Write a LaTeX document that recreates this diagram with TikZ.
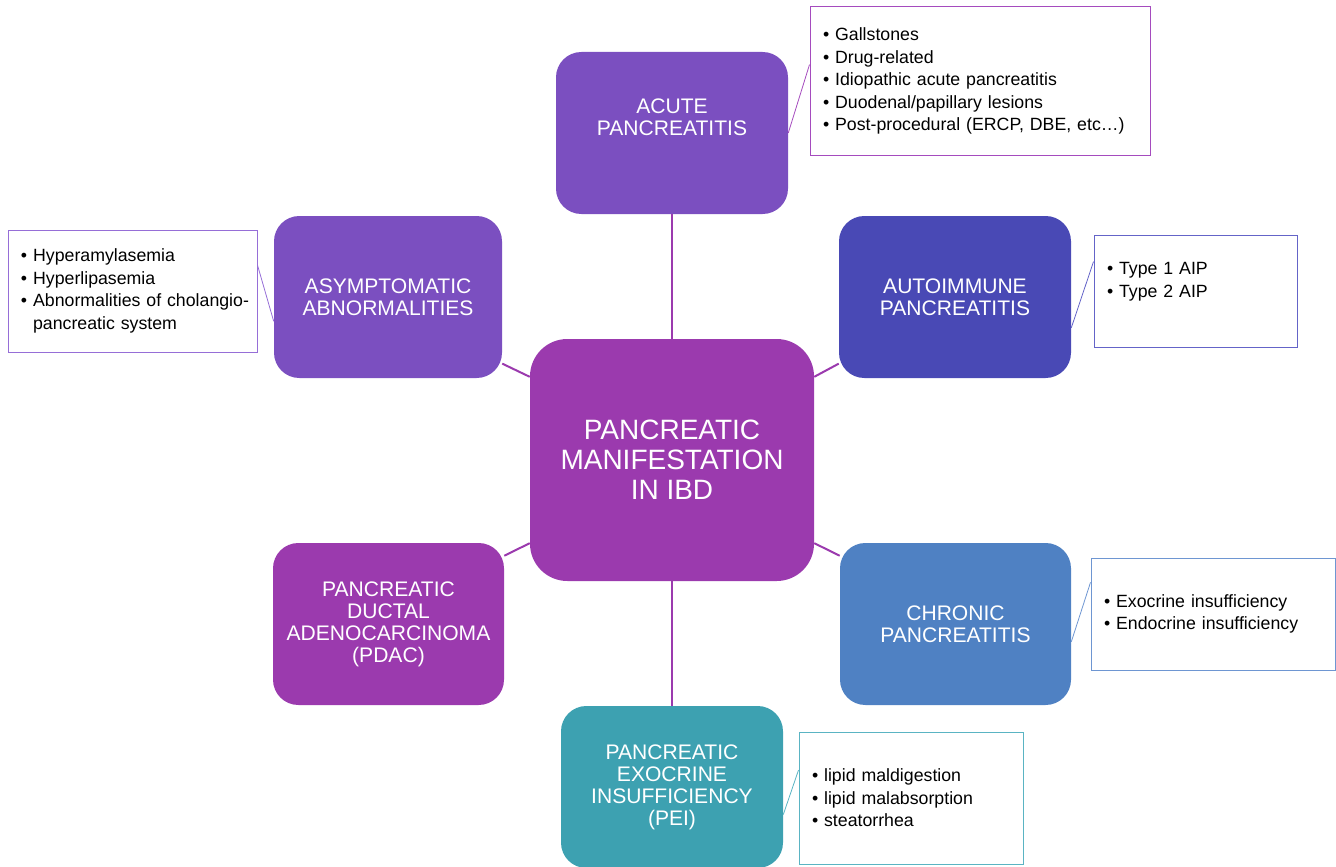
\documentclass[tikz,border=0pt]{standalone}
\usepackage{fontspec}
\setmainfont{Liberation Sans}
\usetikzlibrary{calc}

\definecolor{acutecol}{RGB}{123,79,192}
\definecolor{hubcol}{RGB}{155,58,174}
\definecolor{aipcol}{RGB}{73,73,181}
\definecolor{chroniccol}{RGB}{79,129,195}
\definecolor{peicol}{RGB}{61,161,177}
\definecolor{acutenotecol}{RGB}{165,75,190}
\definecolor{asymnotecol}{RGB}{150,110,215}
\definecolor{aipnotecol}{RGB}{100,100,200}
\definecolor{chronicnotecol}{RGB}{110,150,210}
\definecolor{peinotecol}{RGB}{90,180,195}

\begin{document}
\begin{tikzpicture}[
        x=0.75pt, y=-0.75pt,
        topic/.style={rounded corners=19pt, text=white, align=center,
            minimum height=121.5pt, inner sep=2pt,
            font=\fontsize{15.8}{16.5}\selectfont},
        note/.style={draw, fill=white, line width=0.75pt, align=left,
            inner xsep=9.75pt, inner ysep=0pt,
            font=\fontsize{13.3}{16.9}\selectfont},
        link/.style={hubcol, line width=1.5pt},
        tie/.style={line width=0.6pt}
    ]
        \useasboundingbox (0,0) rectangle (1336,867);

        \node[topic, fill=hubcol, minimum width=213pt, minimum height=181.5pt,
            rounded corners=28pt, font=\fontsize{21}{22.5}\selectfont]
            (hub) at (672,460) {PANCREATIC\\MANIFESTATION\\IN IBD};
        \node[topic, fill=acutecol, minimum width=174pt] (acute) at (672,133)
            {ACUTE\\PANCREATITIS\\[7pt]\mbox{}};
        \node[topic, fill=acutecol, minimum width=171pt] (asym) at (388,297)
            {ASYMPTOMATIC\\ABNORMALITIES};
        \node[topic, fill=aipcol, minimum width=174pt] (aip) at (955,297)
            {AUTOIMMUNE\\PANCREATITIS};
        \node[topic, fill=hubcol, minimum width=173.25pt] (pdac) at (388.5,624)
            {PANCREATIC\\DUCTAL\\ADENOCARCINOMA\\(PDAC)};
        \node[topic, fill=chroniccol, minimum width=173.25pt] (chronic) at (955.5,624)
            {CHRONIC\\PANCREATITIS};
        \node[topic, fill=peicol, minimum width=166.5pt] (pei) at (672,787)
            {PANCREATIC\\EXOCRINE\\INSUFFICIENCY\\(PEI)};

        \node[note, draw=acutenotecol, text width=235.5pt, minimum height=111pt]
            (acutenote) at (980,81)
            {• Gallstones\\• Drug-related\\• Idiopathic acute pancreatitis\\%
             • Duodenal/papillary lesions\\• Post-procedural (ERCP, DBE, etc…)};
        \node[note, draw=asymnotecol, text width=167.25pt, minimum height=91.5pt]
            (asymnote) at (132.5,291)
            {• Hyperamylasemia\\• Hyperlipasemia\\%
             \mbox{• Abnormalities of cholangio-}\\\phantom{• }pancreatic system};
        \node[note, draw=aipnotecol, text width=132.75pt, minimum height=84pt]
            (aipnote) at (1195.5,291)
            {• Type 1 AIP\\• Type 2 AIP\\\mbox{}};
        \node[note, draw=chronicnotecol, text width=163.5pt, minimum height=84pt]
            (chronicnote) at (1213,614)
            {• Exocrine insufficiency\\• Endocrine insufficiency};
        \node[note, draw=peinotecol, text width=148.5pt, minimum height=99pt]
            (peinote) at (911,798)
            {• lipid maldigestion\\• lipid malabsorption\\• steatorrhea};

        \draw[link] (acute.south) -- (hub.north);
        \draw[link] (hub.south) -- (pei.north);
        \draw[link] ($(hub.north west)!0.157!(hub.south west)$)
            -- ($(asym.north east)!0.91!(asym.south east)$);
        \draw[link] ($(hub.north west)!0.843!(hub.south west)$)
            -- ($(pdac.north east)!0.08!(pdac.south east)$);
        \draw[link] ($(hub.north east)!0.157!(hub.south east)$)
            -- ($(aip.north west)!0.91!(aip.south west)$);
        \draw[link] ($(hub.north east)!0.843!(hub.south east)$)
            -- ($(chronic.north west)!0.08!(chronic.south west)$);

        \draw[tie, acutenotecol] (acute.east)
            -- ($(acutenote.north west)!0.39!(acutenote.south west)$);
        \draw[tie, asymnotecol] ($(asymnote.north east)!0.29!(asymnote.south east)$)
            -- ($(asym.north west)!0.65!(asym.south west)$);
        \draw[tie, aipnotecol] ($(aip.north east)!0.69!(aip.south east)$)
            -- ($(aipnote.north west)!0.24!(aipnote.south west)$);
        \draw[tie, chronicnotecol] ($(chronic.north east)!0.61!(chronic.south east)$)
            -- ($(chronicnote.north west)!0.22!(chronicnote.south west)$);
        \draw[tie, peinotecol] ($(pei.north east)!0.67!(pei.south east)$)
            -- ($(peinote.north west)!0.29!(peinote.south west)$);
    \end{tikzpicture}
\end{document}
